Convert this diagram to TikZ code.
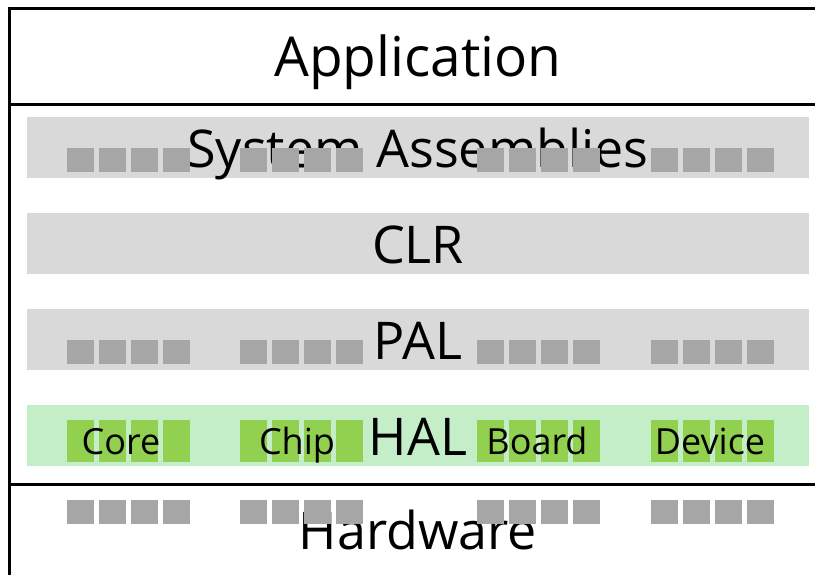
\documentclass[tikz,border=0pt]{standalone}
\usepackage{fontspec}
\setmainfont{Open Sans}
\definecolor{bandgray}{HTML}{D9D9D9}
\definecolor{sqgray}{HTML}{A6A6A6}
\definecolor{bandgreen}{HTML}{C4EEC8}
\definecolor{sqgreen}{HTML}{92D050}
\begin{document}
\begin{tikzpicture}[x=1pt,y=-1pt,
  band/.style={inner sep=0pt,outer sep=0pt,minimum width=782pt,minimum height=61pt,anchor=north west},
  big/.style={anchor=base,inner sep=0pt,font=\fontsize{52}{60}\selectfont},
  small/.style={anchor=base,inner sep=0pt,font=\fontsize{36}{42}\selectfont},
  frame/.style={line width=3pt,line cap=rect}]
\useasboundingbox (0,0) rectangle (815,574);
% frame
\coordinate (tl) at (9.7,8);
\coordinate (tr) at (816,8);
\coordinate (bl) at (9.7,575);
\coordinate (al) at (9.7,104);
\coordinate (ar) at (816,104);
\coordinate (hl) at (9.7,484);
\coordinate (hr) at (816,484);
\draw[frame] (tr) -- (tl) -- (bl);
\draw[frame] (al) -- (ar);
\draw[frame] (hl) -- (hr);
% bands
\node[band,fill=bandgray] (saband) at (27,117) {};
\node[band,fill=bandgray] (clrband) at (27,213) {};
\node[band,fill=bandgray] (palband) at (27,309) {};
\node[band,fill=bandgreen] (halband) at (27,405) {};
% texts
\node[big,font=\fontsize{55}{62}\selectfont] (app) at (418,76) {Application};
\node[big] (sa) at (418,167) {System Assemblies};
\node[big] (clr) at (418,263) {CLR};
\node[big] (pal) at (418,359) {PAL};
\node[big] (hw) at (418,549) {Hardware};
% gray squares
\foreach \g in {66.5,239.5,476.5,650.5}{
  \foreach \i in {0,1,2,3}{
    \fill[sqgray] ({\g+32*\i},148) rectangle ++(27,24);
    \fill[sqgray] ({\g+32*\i},340) rectangle ++(27,24);
    \fill[sqgray] ({\g+32*\i},500) rectangle ++(27,24);
    \fill[sqgreen] ({\g+32*\i},420) rectangle ++(27,42);
  }
}
\node[big] (hal) at (418,455) {HAL};
\node[small] (core) at (121,454) {Core};
\node[small] (chip) at (297,454) {Chip};
\node[small] (board) at (537,454) {Board};
\node[small] (device) at (710,454) {Device};
\end{tikzpicture}
\end{document}
